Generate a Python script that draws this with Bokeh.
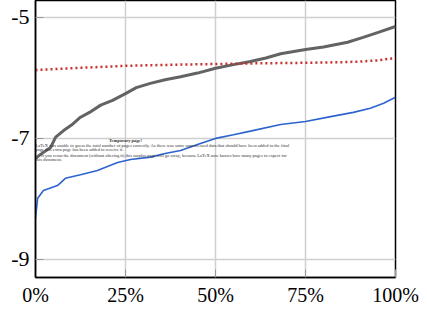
from bokeh.plotting import figure
from bokeh.models import Range1d, FixedTicker, ColumnDataSource
from bokeh.core.properties import value
from bokeh.embed import file_html
from bokeh.resources import INLINE

# ---- data (x in percent of items, y values) ----
gray_x = [0, 1.5, 4.2, 5.6, 7.8, 10.0, 12.5, 15.0, 18.1, 21.4, 25.0, 28.0, 31.9, 36.0, 40.3, 45.0, 50.0, 55.0, 59.7, 64.0, 68.1, 75.0, 80.0, 86.7, 91.0, 95.0, 100.0]
gray_y = [-7.33, -7.26, -7.15, -6.98, -6.87, -6.78, -6.65, -6.57, -6.45, -6.37, -6.26, -6.16, -6.09, -6.03, -5.98, -5.92, -5.84, -5.78, -5.73, -5.67, -5.60, -5.53, -5.49, -5.41, -5.33, -5.25, -5.15]

red_x = [0, 10, 25, 40, 50, 60, 75, 85, 90, 95, 100]
red_y = [-5.87, -5.84, -5.80, -5.78, -5.77, -5.76, -5.75, -5.74, -5.73, -5.71, -5.67]

blue_x = [0, 0.6, 2.2, 6.1, 8.3, 12.5, 17.2, 22.8, 26.4, 31.9, 36.0, 40.3, 45.0, 50.0, 55.0, 59.7, 68.1, 75.0, 82.0, 88.3, 93.0, 96.7, 100.0]
blue_y = [-8.32, -7.99, -7.86, -7.78, -7.66, -7.60, -7.53, -7.40, -7.35, -7.31, -7.25, -7.20, -7.10, -7.00, -6.94, -6.88, -6.77, -6.72, -6.64, -6.57, -6.50, -6.42, -6.32]

x_ticks = [0, 25, 50, 75, 100]
x_tick_labels = ["0%", "25%", "50%", "75%", "100%"]
y_ticks = [-9, -7, -5]
y_tick_labels = ["-9", "-7", "-5"]

note_lines = [
    "Temporary page!",
    "LaTeX was unable to guess the total number of pages correctly. As there was some unprocessed data that should have been added to the final",
    "page this extra page has been added to receive it.",
    "If you rerun the document (without altering it) this surplus page will go away, because LaTeX now knows how many pages to expect for",
    "this document.",
]
note_x = [25.0, 0.0, 0.0, 1.5, 0.0]
note_y = [-7.03, -7.12, -7.19, -7.28, -7.35]
note_style = ["bold", "normal", "normal", "normal", "normal"]
note_align = ["center", "left", "left", "left", "left"]

p = figure(frame_width=360, frame_height=277, output_backend="svg", toolbar_location=None,
           x_range=Range1d(0, 100), y_range=Range1d(-9.30, -4.72),
           min_border_left=35, min_border_right=25, min_border_top=0, min_border_bottom=27)
p.background_fill_color = "white"
p.border_fill_color = "white"
p.outline_line_color = "black"
p.outline_line_width = 1.5

p.xgrid.grid_line_color = "#cfcfcf"
p.ygrid.grid_line_color = "#cfcfcf"
p.xgrid.grid_line_width = 1.5
p.ygrid.grid_line_width = 1.5

for ax in (p.xaxis[0], p.yaxis[0]):
    ax.axis_line_color = "black"
    ax.axis_line_width = 1.5
    ax.major_tick_line_color = "#9a9a9a"
    ax.major_tick_in = 8
    ax.major_tick_out = 0
    ax.minor_tick_line_color = None
    ax.major_label_text_font = "Liberation Serif"
    ax.major_label_text_font_size = "20px"
    ax.major_label_text_color = "black"

p.xaxis.ticker = FixedTicker(ticks=x_ticks)
p.xaxis.major_label_overrides = {t: l for t, l in zip(x_ticks, x_tick_labels)}
p.xaxis.major_label_standoff = 6
p.yaxis.ticker = FixedTicker(ticks=y_ticks)
p.yaxis.major_label_overrides = {t: l for t, l in zip(y_ticks, y_tick_labels)}
p.yaxis.major_label_standoff = 6
p.yaxis.major_label_text_font_size = "22px"

p.line(gray_x, gray_y, line_color="#636363", line_width=3)
p.line(red_x, red_y, line_color="#c8302c", line_width=2.5, line_dash="2 3")
p.line(blue_x, blue_y, line_color="#2e63cf", line_width=1.6)

src = ColumnDataSource(dict(x=note_x, y=note_y, t=note_lines, s=note_style, a=note_align))
p.text(x="x", y="y", text="t", source=src, text_font=value("Liberation Serif"),
       text_font_size="4.5px", text_font_style="s", text_align="a",
       text_baseline="middle", text_color="#333333")

open("out.html", "w").write(file_html(p, INLINE))
